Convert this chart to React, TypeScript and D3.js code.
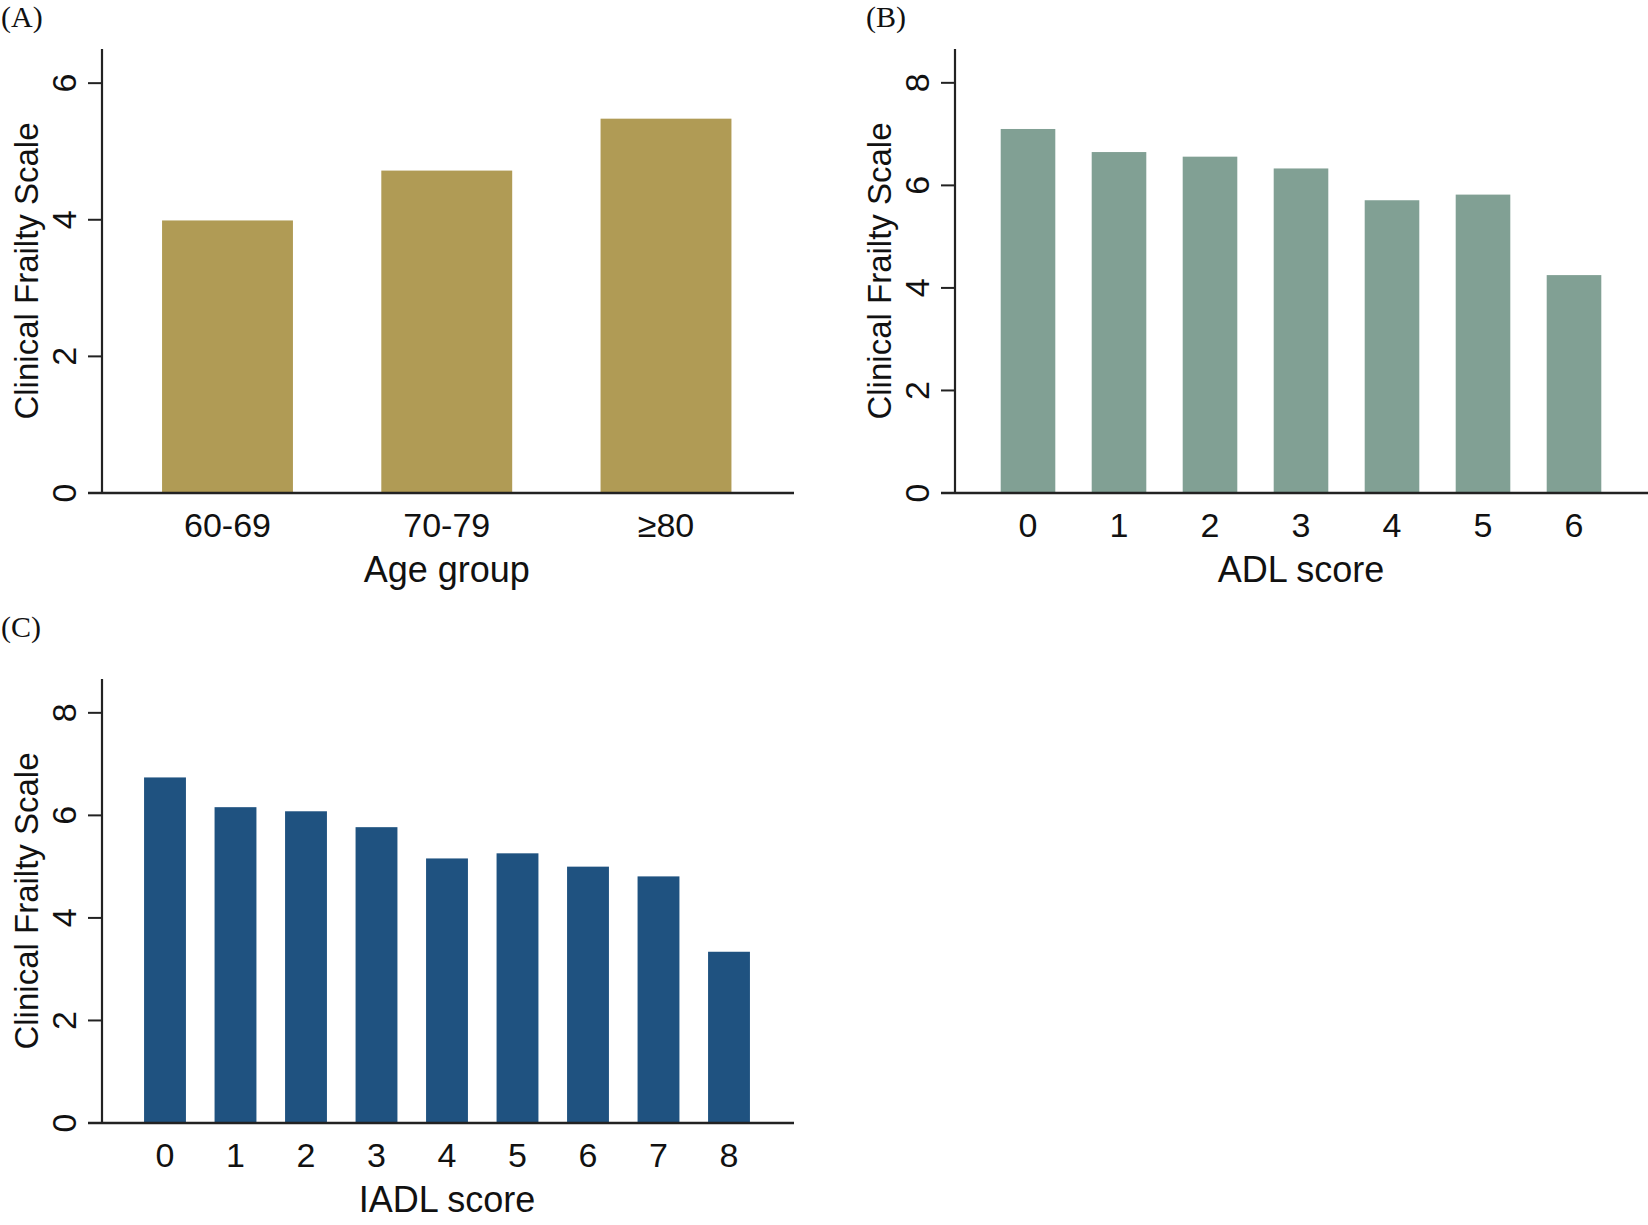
import React from "react";
import * as d3 from "d3";

const ageGroups = ["60-69", "70-79", "≥80"];
const ageCFS = [3.99, 4.72, 5.48];

const adlScores = ["0", "1", "2", "3", "4", "5", "6"];
const adlCFS = [7.1, 6.65, 6.56, 6.33, 5.71, 5.82, 4.25];

const iadlScores = ["0", "1", "2", "3", "4", "5", "6", "7", "8"];
const iadlCFS = [6.74, 6.16, 6.08, 5.77, 5.16, 5.26, 5.0, 4.81, 3.34];

const ticksA = [0, 2, 4, 6];
const ticksBC = [0, 2, 4, 6, 8];

const SANS = "'Liberation Sans', Arial, sans-serif";
const SERIF = "'Liberation Serif', 'Times New Roman', serif";
const AXIS = "#222";

type PanelProps = {
  label: string;
  labelX: number;
  labelY: number;
  axisX: number;
  baseY: number;
  yMax: number;
  ticks: number[];
  cats: string[];
  values: number[];
  firstC: number;
  lastC: number;
  barFrac: number;
  xEnd: number;
  color: string;
  xTitle: string;
};

function Panel(p: PanelProps) {
  const axisLen = 444;
  const y = d3.scaleLinear().domain([0, p.yMax]).range([p.baseY, p.baseY - axisLen]);
  const x = d3.scalePoint<string>().domain(p.cats).range([p.firstC, p.lastC]);
  const step = x.step();
  const bw = step * p.barFrac;
  const midX = (p.firstC + p.lastC) / 2;
  return (
    <g>
      <text x={p.labelX} y={p.labelY} fontFamily={SERIF} fontSize={30} fill="#111">
        {p.label}
      </text>
      {p.values.map((v, i) => (
        <rect
          key={i}
          x={(x(p.cats[i]) as number) - bw / 2}
          y={y(v)}
          width={bw}
          height={p.baseY - y(v)}
          fill={p.color}
        />
      ))}
      <line x1={p.axisX} x2={p.axisX} y1={p.baseY - axisLen} y2={p.baseY} stroke={AXIS} strokeWidth={2.2} />
      <line x1={p.axisX - 14} x2={p.xEnd} y1={p.baseY} y2={p.baseY} stroke={AXIS} strokeWidth={2.6} />
      {p.ticks.map((t) => (
        <g key={t}>
          <line x1={p.axisX - 14} x2={p.axisX} y1={y(t)} y2={y(t)} stroke={AXIS} strokeWidth={2} />
          <text
            transform={`translate(${p.axisX - 26},${y(t)}) rotate(-90)`}
            textAnchor="middle"
            fontFamily={SANS}
            fontSize={34}
            fill="#111"
          >
            {t}
          </text>
        </g>
      ))}
      {p.cats.map((c) => (
        <text
          key={c}
          x={x(c) as number}
          y={p.baseY + 44}
          textAnchor="middle"
          fontFamily={SANS}
          fontSize={34}
          fill="#111"
        >
          {c}
        </text>
      ))}
      <text x={midX} y={p.baseY + 89} textAnchor="middle" fontFamily={SANS} fontSize={36} fill="#111">
        {p.xTitle}
      </text>
      <text
        transform={`translate(${p.axisX - 64},${p.baseY - axisLen / 2}) rotate(-90)`}
        textAnchor="middle"
        fontFamily={SANS}
        fontSize={33}
        fill="#111"
      >
        Clinical Frailty Scale
      </text>
    </g>
  );
}

export default function App() {
  return (
    <svg
      width={1648}
      height={1225}
      style={{ position: "absolute", left: 0, top: 0, background: "#fff" }}
    >
      <rect width={1648} height={1225} fill="#fff" />
      <Panel
        label="(A)"
        labelX={1}
        labelY={27}
        axisX={102}
        baseY={493}
        yMax={6.5}
        ticks={ticksA}
        cats={ageGroups}
        values={ageCFS}
        firstC={227.5}
        lastC={666}
        barFrac={0.597}
        xEnd={794}
        color="#b09b55"
        xTitle="Age group"
      />
      <Panel
        label="(B)"
        labelX={866}
        labelY={27}
        axisX={955}
        baseY={493}
        yMax={8.66}
        ticks={ticksBC}
        cats={adlScores}
        values={adlCFS}
        firstC={1028}
        lastC={1574}
        barFrac={0.6}
        xEnd={1648}
        color="#81a094"
        xTitle="ADL score"
      />
      <Panel
        label="(C)"
        labelX={1}
        labelY={637}
        axisX={102}
        baseY={1123}
        yMax={8.66}
        ticks={ticksBC}
        cats={iadlScores}
        values={iadlCFS}
        firstC={165}
        lastC={729}
        barFrac={0.594}
        xEnd={794}
        color="#1f5280"
        xTitle="IADL score"
      />
    </svg>
  );
}
